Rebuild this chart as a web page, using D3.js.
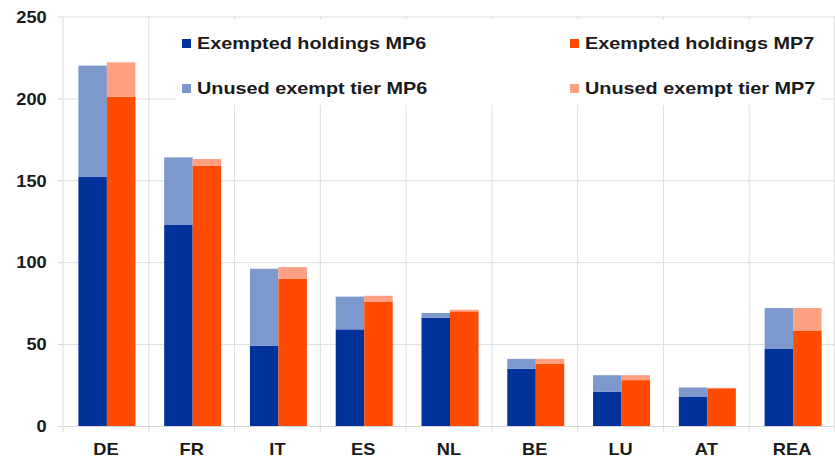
<!DOCTYPE html>
<html>
<head>
<meta charset="utf-8">
<script src="https://cdn.jsdelivr.net/npm/d3@7"></script>
<style>
  body { margin: 0; background: #fff; }
  svg text { font-family: "Liberation Sans", Arial, sans-serif; font-weight: bold; fill: #1a1a1a; }
</style>
</head>
<body>
<svg id="chart" width="835" height="456"></svg>
<script>
// countries on the x axis
var countries = ["DE", "FR", "IT", "ES", "NL", "BE", "LU", "AT", "REA"];
// exempted holdings (EUR bn) and the unused part of the exempt tier
var exemptedMP6 = [152, 123, 49, 59, 66, 35, 21, 18, 47];
var unusedMP6   = [68, 41, 47, 20, 3, 6, 10, 5.5, 25];
var exemptedMP7 = [201, 159, 90, 76, 70, 38, 28, 23, 58];
var unusedMP7   = [21, 4, 7, 3.5, 1, 3, 3, 0.3, 14];
var yTicks = [0, 50, 100, 150, 200, 250];

var legendItems = [
  { name: "Exempted holdings MP6", color: "#003299" },
  { name: "Exempted holdings MP7", color: "#ff4b00" },
  { name: "Unused exempt tier MP6", color: "#7d98cc" },
  { name: "Unused exempt tier MP7", color: "#ffa082" }
];

var svg = d3.select("#chart");
// note: "top" is a reserved window prop, so use other names
var plotL = 63, plotR = 835, plotT = 16.5, plotB = 426;
var sx = 1.14; // the original lettering is a bit stretched sideways

var x = d3.scaleBand().domain(countries).range([plotL, plotR]);
var y = d3.scaleLinear().domain([0, 250]).range([plotB, plotT]);
var barW = 28.5;

// horizontal gridlines + left ticks
var yAxis = svg.append("g")
  .attr("transform", "translate(" + plotL + ",0)")
  .call(d3.axisLeft(y).tickValues(yTicks).tickSize(5).tickSizeOuter(0));
yAxis.select(".domain").remove();
yAxis.selectAll("line").attr("stroke", "#d6d6d6");
yAxis.selectAll(".tick").append("line")
  .attr("x1", 0).attr("x2", plotR - plotL)
  .attr("stroke", "#dedede");
yAxis.selectAll("text")
  .attr("x", -16.3 / sx).attr("dy", "0.36em")
  .attr("transform", "scale(" + sx + ",1)")
  .style("font-size", "16px");

// vertical gridlines on category edges
var edges = countries.map(function(c) { return x(c); }).concat([plotR - 0.5]);
svg.append("g").selectAll("line")
  .data(edges)
  .enter()
  .append("line")
  .attr("x1", function(d) { return d; })
  .attr("x2", function(d) { return d; })
  .attr("y1", plotT)
  .attr("y2", plotB + 6)
  .attr("stroke", "#dedede");

// legend box sits over the grid
svg.append("rect")
  .attr("x", 176).attr("y", 20)
  .attr("width", 646).attr("height", 85)
  .attr("fill", "#fff");

// x axis line + labels
var xAxis = svg.append("g")
  .attr("transform", "translate(0," + plotB + ")")
  .call(d3.axisBottom(x).tickSize(0).tickSizeOuter(0));
xAxis.select(".domain").attr("stroke", "#d6d6d6");
xAxis.selectAll("text")
  .attr("y", 29).attr("dy", null)
  .attr("transform", "scale(" + sx + ",1)")
  .style("font-size", "16px");

// bars
var series = [
  { ex: exemptedMP6, un: unusedMP6, exC: legendItems[0].color, unC: legendItems[2].color, off: 0 },
  { ex: exemptedMP7, un: unusedMP7, exC: legendItems[1].color, unC: legendItems[3].color, off: 1 }
];

series.forEach(function(s) {
  var g = svg.append("g");
  var x0 = function(i) {
    return x(countries[i]) + x.bandwidth() / 2 - barW + s.off * barW + 1;
  };
  g.selectAll("rect.ex")
    .data(s.ex)
    .enter()
    .append("rect")
    .attr("class", "ex")
    .attr("x", function(d, i) { return x0(i); })
    .attr("y", function(d) { return y(d); })
    .attr("width", barW)
    .attr("height", function(d) { return y(0) - y(d); })
    .attr("fill", s.exC);
  g.selectAll("rect.un")
    .data(s.un)
    .enter()
    .append("rect")
    .attr("class", "un")
    .attr("x", function(d, i) { return x0(i); })
    .attr("y", function(d, i) { return y(s.ex[i] + d); })
    .attr("width", barW)
    .attr("height", function(d, i) { return y(s.ex[i]) - y(s.ex[i] + d); })
    .attr("fill", s.unC);
});

// legend
var legX = [182, 570], legY = [43.5, 88.5];
var leg = svg.append("g").selectAll("g")
  .data(legendItems)
  .enter()
  .append("g")
  .attr("transform", function(d, i) {
    return "translate(" + legX[i % 2] + "," + legY[Math.floor(i / 2)] + ")";
  });
leg.append("rect")
  .attr("x", 0).attr("y", -4.5)
  .attr("width", 9).attr("height", 9)
  .attr("fill", function(d) { return d.color; });
leg.append("text")
  .attr("transform", "translate(15,0) scale(1.24,1)")
  .attr("dy", "0.36em")
  .style("font-size", "16px")
  .text(function(d) { return d.name; });
</script>
</body>
</html>
